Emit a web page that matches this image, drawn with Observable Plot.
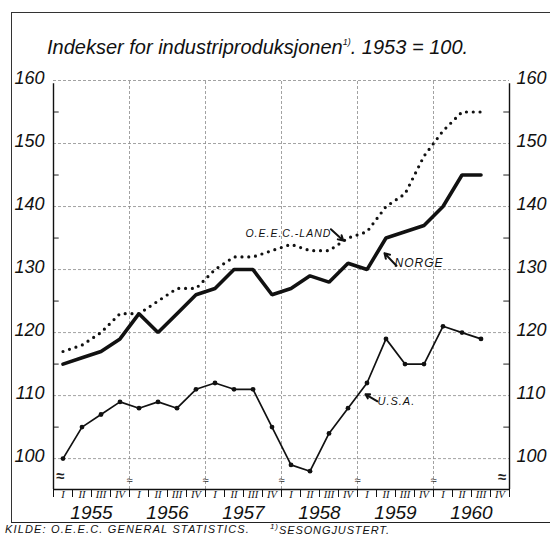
<!DOCTYPE html>
<html><head><meta charset="utf-8">
<script src="https://cdn.jsdelivr.net/npm/d3@7"></script>
<script src="https://cdn.jsdelivr.net/npm/@observablehq/plot@0.6"></script>
<style>
body{margin:0;background:#fff;}
#wrap{position:relative;width:550px;height:537px;overflow:hidden;font-family:"Liberation Sans",Arial,sans-serif;font-style:italic;color:#111;}
#border{position:absolute;left:11px;top:12px;width:600px;height:509px;border-left:1px solid #333;border-top:1px solid #333;border-bottom:1.2px solid #222;}
#title{position:absolute;left:47px;top:35px;font-size:20px;line-height:1.2;white-space:nowrap;}
#title sup{font-size:9px;vertical-align:9px;line-height:1;}
#foot1{position:absolute;left:5px;top:523px;font-size:11px;letter-spacing:1.15px;line-height:1.2;white-space:nowrap;}
#foot2{position:absolute;left:270px;top:523px;font-size:11px;letter-spacing:0.9px;line-height:1.2;white-space:nowrap;}
#chart{position:absolute;left:0;top:0;}
</style>
</head><body>
<div id="wrap">
  <div id="border"></div>
  <div id="chart"></div>
  <div id="title">Indekser for industriproduksjonen<sup>1)</sup>. 1953 = 100.</div>
  <div id="foot1">KILDE: O.E.E.C. GENERAL STATISTICS.</div>
  <div id="foot2"><sup style="font-size:8px;line-height:1">1)</sup>SESONGJUSTERT.</div>
</div>
<script>
// ---- data (quarterly, 1955 Q1 .. 1960 Q3) ----
const years = [1955, 1956, 1957, 1958, 1959, 1960];
const quarterLabels = ["I", "II", "III", "IV"];
const norge = [115,116,117,119, 123,120,123,126, 127,130,130,126, 127,129,128,131, 130,135,136,137, 140,145,145];
const oeec  = [117,118,120,123, 123,125,127,127, 130,132,132,133, 134,133,133,135, 136,140,142,148, 152,155,155];
const usa   = [100,105,107,109, 108,109,108,111, 112,111,111,105, 99,98,104,108, 112,119,115,115, 121,120,119];
const yMajor = [100, 110, 120, 130, 140, 150, 160];
const yMinor = [105, 115, 125, 135, 145, 155];

// series labels (position in quarter-index / index-value units)
const labels = [
  {text: "O.E.E.C.-LAND", x: 10.1, y: 135.2, size: 10.5},
  {text: "NORGE", x: 17.95, y: 130.4, size: 12},
  {text: "U.S.A.", x: 17.05, y: 108.5, size: 11}
];
const arrows = [
  {x1: 14.6, y1: 136.4, x2: 15.25, y2: 134.6},
  {x1: 18.05, y1: 130.6, x2: 17.42, y2: 132.6},
  {x1: 17.05, y1: 109.1, x2: 16.42, y2: 110.2}
];

const nQ = years.length * 4;
const yMin = 95.1, yMax = 160;
const toPts = arr => arr.map((v, i) => ({x: i + 0.5, y: v}));
const yearBounds = d3.range(4, nQ, 4);
const qCenters = d3.range(nQ).map(i => i + 0.5);
const yCenters = years.map((y, i) => i * 4 + 2);

const FONT = "Liberation Sans, Arial, sans-serif";
const grid = {stroke: "#8a8a8a", strokeWidth: 0.8, strokeDasharray: "3,2"};

const chart = Plot.plot({
  width: 550, height: 537,
  marginLeft: 53, marginRight: 41, marginTop: 80, marginBottom: 48,
  x: {type: "linear", domain: [0, nQ]},
  y: {domain: [yMin, yMax]},
  style: {background: "transparent", color: "#111"},
  marks: [
    Plot.ruleY(yMajor, {x1: 0, x2: nQ, ...grid}),
    Plot.ruleX(yearBounds, {y1: yMin, y2: yMax, ...grid}),
    Plot.ruleY(yMinor, {x1: 0, x2: 0.3, stroke: "#222", strokeWidth: 1}),
    Plot.ruleY(yMinor, {x1: nQ - 0.3, x2: nQ, stroke: "#222", strokeWidth: 1}),
    Plot.ruleX([0, nQ], {y1: yMin, y2: 159.5, stroke: "#111", strokeWidth: 1.4}),
    Plot.ruleY([yMin], {x1: 0, x2: nQ, stroke: "#111", strokeWidth: 1.4}),
    // break symbols
    Plot.text(yearBounds, {x: d => d, y: 96.6, text: () => "≈", fontSize: 11, fill: "#333"}),
    Plot.text([0.35], {x: d => d, y: 97.2, text: () => "≈", fontSize: 15, fontWeight: "bold", fill: "#222"}),
    Plot.text([23.6], {x: d => d, y: 97.0, text: () => "≈", fontSize: 15, fontWeight: "bold", fill: "#222"}),
    // axes
    Plot.axisY(yMajor, {anchor: "left", tickSize: 0, tickPadding: 9, dy: -2, fontSize: 18, fontStyle: "italic", fontFamily: FONT}),
    Plot.axisY(yMajor, {anchor: "right", tickSize: 0, tickPadding: 7, dy: -2, fontSize: 18, fontStyle: "italic", fontFamily: FONT}),
    Plot.axisX(d3.range(0, nQ + 1), {anchor: "bottom", tickSize: 8, tickFormat: () => "", strokeWidth: 1}),
    Plot.axisX(qCenters, {anchor: "bottom", tickSize: 0, tickPadding: 1, tickFormat: d => quarterLabels[Math.floor(d) % 4], fontSize: 10.5, fontStyle: "italic", fontFamily: "Liberation Serif, serif"}),
    Plot.axisX(yCenters, {anchor: "bottom", tickSize: 0, tickPadding: 16, tickFormat: d => String(years[Math.floor(d / 4)]), fontSize: 19, fontStyle: "italic", fontFamily: FONT}),
    // series
    Plot.line(toPts(oeec), {x: "x", y: "y", stroke: "#111", strokeWidth: 3.2, strokeDasharray: "0,6.8", strokeLinecap: "round"}),
    Plot.line(toPts(norge), {x: "x", y: "y", stroke: "#111", strokeWidth: 3.6, strokeLinejoin: "miter"}),
    Plot.line(toPts(usa), {x: "x", y: "y", stroke: "#111", strokeWidth: 1.7}),
    Plot.dot(toPts(usa), {x: "x", y: "y", r: 2.4, fill: "#111"}),
    // labels
    Plot.text(labels, {x: "x", y: "y", text: "text", fontSize: d => d.size, textAnchor: "start", lineAnchor: "bottom", fontStyle: "italic", fontFamily: FONT, fill: "#111"}),
    Plot.arrow(arrows, {x1: "x1", y1: "y1", x2: "x2", y2: "y2", stroke: "#111", strokeWidth: 2, headLength: 6, bend: 0})
  ]
});
document.getElementById("chart").appendChild(chart);
// letter spacing for series labels
chart.querySelectorAll("text").forEach(t => {
  if (["O.E.E.C.-LAND", "NORGE", "U.S.A."].includes(t.textContent)) t.style.letterSpacing = "1px";
});
</script>
</body></html>
